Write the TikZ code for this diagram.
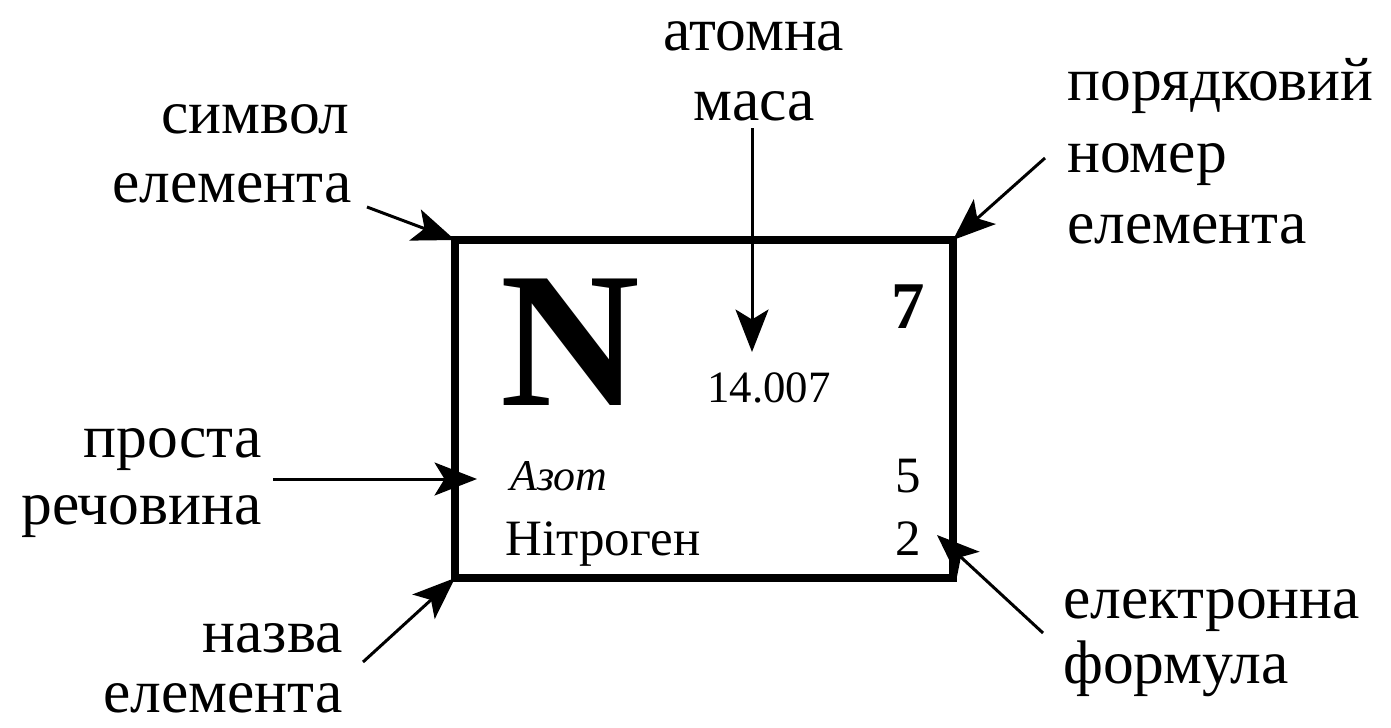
\documentclass[tikz,border=0pt]{standalone}
\usepackage{fontspec}
\setmainfont{Liberation Serif}
\usetikzlibrary{arrows.meta}
\begin{document}
\begin{tikzpicture}[x=0.02cm,y=-0.02cm,
  lbl/.style={inner sep=0pt, font=\fontsize{35}{40}\selectfont},
  inb/.style={inner sep=0pt, font=\fontsize{29}{32}\selectfont},
  ptr/.style={line width=1.7pt, -{Stealth[length=0.85cm,width=0.66cm,inset=0.2cm]}},
  frame/.style={line width=4.5pt, line join=miter},
]
\useasboundingbox (0,0) rectangle (1391,727);
% box corners
\coordinate (nw) at (455,240);
\coordinate (ne) at (953,240);
\coordinate (se) at (953,578);
\coordinate (sw) at (455,578);
\draw[frame] (nw) -- (ne) -- (se) -- (sw) -- cycle;
% box contents
\node[inner sep=0pt, anchor=base, font=\fontsize{110}{110}\selectfont\bfseries] (sym) at (570,405) {N};
\node[inner sep=0pt, anchor=base east, font=\fontsize{38}{40}\selectfont\bfseries] (num) at (925,328) {7};
\node[inner sep=0pt, anchor=base, font=\fontsize{25.5}{30}\selectfont] (mass) at (769,402) {14.007};
\node[inner sep=0pt, anchor=base west, font=\fontsize{25}{30}\selectfont\itshape] (az) at (510,490) {Азот};
\node[inb, anchor=base east] (five) at (921,492) {5};
\node[inb, anchor=base west] (nit) at (505,555) {Нітроген};
\node[inb, anchor=base east] (two) at (921,555) {2};
% labels
\node[lbl, anchor=base] (at1) at (754,50) {атомна};
\node[lbl, anchor=base] (at2) at (754,120) {маса};
\node[lbl, anchor=base east] (s1) at (350,133) {символ};
\node[lbl, anchor=base east] (s2) at (352,202) {елемента};
\node[lbl, anchor=base west] (p1) at (1067,100) {порядковий};
\node[lbl, anchor=base west] (p2) at (1067,172) {номер};
\node[lbl, anchor=base west] (p3) at (1067,243) {елемента};
\node[lbl, anchor=base east] (r1) at (262,457) {проста};
\node[lbl, anchor=base east] (r2) at (262,524) {речовина};
\node[lbl, anchor=base east] (n1) at (343,652) {назва};
\node[lbl, anchor=base east] (n2) at (343,712) {елемента};
\node[lbl, anchor=base west] (e1) at (1063,618) {електронна};
\node[lbl, anchor=base west] (e2) at (1063,683) {формула};
% connector ends
\coordinate (sA) at (367,207);
\coordinate (mA) at (752,128);
\coordinate (mB) at (752,352);
\coordinate (oA) at (1045,158);
\coordinate (rA) at (273,479);
\coordinate (rB) at (477,479);
\coordinate (nA) at (363,662);
\coordinate (eA) at (1043,633);
\coordinate (eB) at (937,535);
\draw[ptr] (sA) -- (nw);
\draw[ptr] (mA) -- (mB);
\draw[ptr] (oA) -- (ne);
\draw[ptr] (rA) -- (rB);
\draw[ptr] (nA) -- (sw);
\draw[ptr] (eA) -- (eB);
\end{tikzpicture}
\end{document}
